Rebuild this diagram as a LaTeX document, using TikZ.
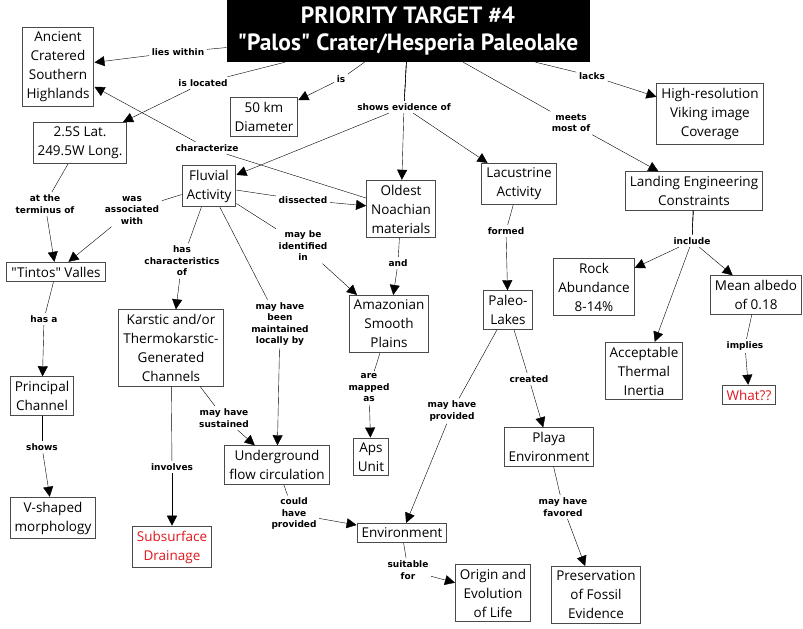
\documentclass[tikz,border=0pt]{standalone}
\usepackage{fontspec}
\newfontfamily\conceptfont{Open Sans}
\newfontfamily\linkfont{DejaVu Sans}
\newfontfamily\headfont{PT Sans}
\usepackage{xcolor}
\usepackage{tikz}
\usetikzlibrary{arrows.meta,positioning}
\definecolor{question}{HTML}{E0161C}
\definecolor{boxline}{HTML}{4A4A4A}

\begin{document}
\begin{tikzpicture}[x=1pt,y=-1pt,every node/.style={align=center},
    concept/.style={draw=boxline,line width=1pt,inner sep=4.5pt,font=\conceptfont\fontsize{13.5}{19}\selectfont},
    link/.style={inner sep=2.5pt,font=\linkfont\bfseries\fontsize{9}{11.5}\selectfont},
    rel/.style={-{Triangle[length=10pt,width=10pt]}}]
  \useasboundingbox (0,0) rectangle (803,629);
  \node[fill=black,text=white,minimum width=363pt,minimum height=62pt,
    font=\headfont\bfseries\fontsize{23.5}{27}\selectfont] (title) at (408,31)
    {PRIORITY TARGET \#4\\"Palos" Crater/Hesperia Paleolake};
  % concepts
  \node[concept] (anc) at (58,67) {Ancient\\Cratered\\Southern\\Highlands};
  \node[concept] (loc) at (80,143) {2.5S Lat.\\249.5W Long.};
  \node[concept] (diam) at (264,117) {50 km\\Diameter};
  \node[concept] (hires) at (710,114) {High-resolution\\Viking image\\Coverage};
  \node[concept] (fluv) at (209,186) {Fluvial\\Activity};
  \node[concept] (noach) at (401,209) {Oldest\\Noachian\\materials};
  \node[concept] (lacus) at (519,184) {Lacustrine\\Activity};
  \node[concept] (land) at (694,191) {Landing Engineering\\Constraints};
  \node[concept] (tintos) at (56,272) {"Tintos" Valles};
  \node[concept] (karst) at (171,348) {Karstic and/or\\Thermokarstic-\\Generated\\Channels};
  \node[concept] (amaz) at (389,324) {Amazonian\\Smooth\\Plains};
  \node[concept] (paleo) at (508,310) {Paleo-\\Lakes};
  \node[concept] (rock) at (594,287) {Rock\\Abundance\\8-14\%};
  \node[concept] (albedo) at (756,295) {Mean albedo\\of 0.18};
  \node[concept] (inertia) at (644,371) {Acceptable\\Thermal\\Inertia};
  \node[concept,text=question] (what) at (749,395) {What??};
  \node[concept] (princ) at (42,396) {Principal\\Channel};
  \node[concept] (aps) at (371,457) {Aps\\Unit};
  \node[concept] (under) at (277,465) {Underground\\flow circulation};
  \node[concept] (vshape) at (53,518) {V-shaped\\morphology};
  \node[concept,text=question] (drain) at (172,547) {Subsurface\\Drainage};
  \node[concept] (env) at (402,533) {Environment};
  \node[concept] (playa) at (549,447) {Playa\\Environment};
  \node[concept] (origin) at (493,593) {Origin and\\Evolution\\of Life};
  \node[concept] (fossil) at (596,595) {Preservation\\of Fossil\\Evidence};
  % linking phrases
  \node[link] (l1) at (178,52) {lies within};
  \node[link] (l2) at (203,83) {is located};
  \node[link] (l3) at (341,79) {is};
  \node[link] (l4) at (404,107) {shows evidence of};
  \node[link] (l5) at (592,76) {lacks};
  \node[link] (l6) at (571,123) {meets\\most of};
  \node[link] (l7) at (207,148) {characterize};
  \node[link] (l8) at (303,200) {dissected};
  \node[link] (l9) at (45,204) {at the\\terminus of};
  \node[link] (l10) at (132,210) {was\\associated\\with};
  \node[link] (l11) at (182,261) {has\\characteristics\\of};
  \node[link] (l12) at (303,246) {may be\\identified\\in};
  \node[link] (l13) at (280,324) {may have\\been\\maintained\\locally by};
  \node[link] (l14) at (398,263) {and};
  \node[link] (l15) at (506,231) {formed};
  \node[link] (l16) at (692,241) {include};
  \node[link] (l17) at (44,319) {has a};
  \node[link] (l18) at (42,447) {shows};
  \node[link] (l19) at (172,467) {involves};
  \node[link] (l20) at (224,418) {may have\\sustained};
  \node[link] (l21) at (369,388) {are\\mapped\\as};
  \node[link] (l22) at (294,514) {could\\have\\provided};
  \node[link] (l23) at (452,411) {may have\\provided};
  \node[link] (l24) at (529,379) {created};
  \node[link] (l25) at (745,346) {implies};
  \node[link] (l26) at (408,570) {suitable\\for};
  \node[link] (l27) at (563,507) {may have\\favored};
  % propositions
  \foreach \s/\l/\t in {title/l1/anc,title/l2/loc,title/l3/diam,title/l4/fluv,
      title/l4/noach,title/l4/lacus,title/l5/hires,title/l6/land,noach/l7/anc,
      fluv/l8/noach,loc/l9/tintos,fluv/l10/tintos,fluv/l11/karst,fluv/l12/amaz,
      fluv/l13/under,noach/l14/amaz,lacus/l15/paleo,land/l16/rock,land/l16/inertia,
      land/l16/albedo,tintos/l17/princ,princ/l18/vshape,karst/l19/drain,
      karst/l20/under,amaz/l21/aps,under/l22/env,paleo/l23/env,paleo/l24/playa,
      albedo/l25/what,env/l26/origin,playa/l27/fossil} {
    \draw (\s) -- (\l);
    \draw[rel] (\l) -- (\t);
  }
\end{tikzpicture}
\end{document}
